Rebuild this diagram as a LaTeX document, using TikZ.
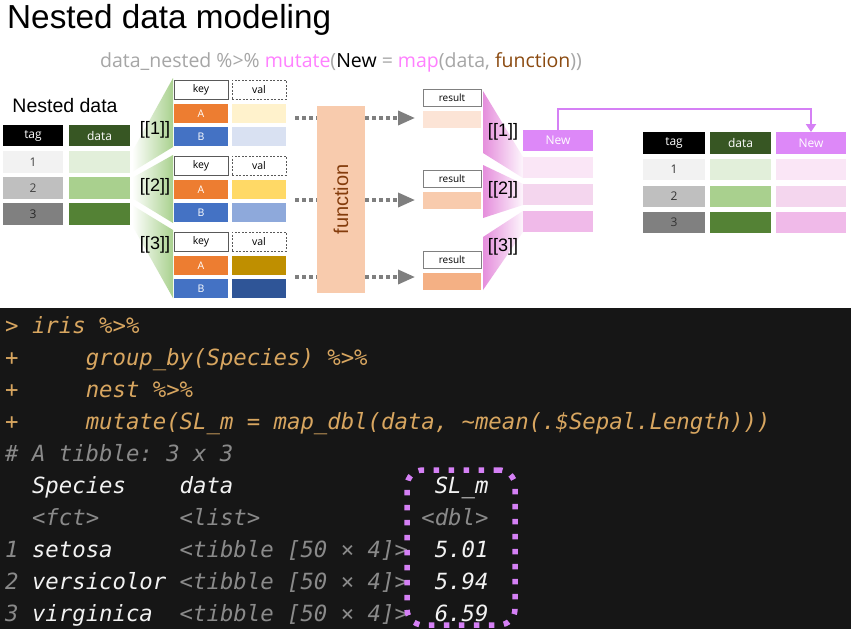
\documentclass[tikz,border=0pt]{standalone}
\usepackage{fontspec}
\setmainfont{Liberation Sans}
\setmonofont{DejaVu Sans Mono}
\newfontfamily\ofont{Open Sans}
\usetikzlibrary{arrows.meta,calc}
\definecolor{tagh}{HTML}{000000}
\definecolor{datah}{HTML}{375623}
\definecolor{newh}{HTML}{DD88F8}
\definecolor{tagA}{HTML}{F2F2F2}
\definecolor{tagB}{HTML}{BFBFBF}
\definecolor{tagC}{HTML}{808080}
\definecolor{datA}{HTML}{E2EFDA}
\definecolor{datB}{HTML}{A9D08E}
\definecolor{datC}{HTML}{548235}
\definecolor{newA}{HTML}{FAE6F6}
\definecolor{newB}{HTML}{F4D6EE}
\definecolor{newC}{HTML}{F0BAE9}
\definecolor{korange}{HTML}{ED7D31}
\definecolor{kblue}{HTML}{4472C4}
\definecolor{vA1}{HTML}{FFF2CC}
\definecolor{vB1}{HTML}{D9E1F2}
\definecolor{vA2}{HTML}{FFD966}
\definecolor{vB2}{HTML}{8EA9DB}
\definecolor{vA3}{HTML}{BF8F00}
\definecolor{vB3}{HTML}{2F5597}
\definecolor{res1}{HTML}{FCE4D6}
\definecolor{res2}{HTML}{F8CBAD}
\definecolor{res3}{HTML}{F4B084}
\definecolor{fnfill}{HTML}{F8CBAD}
\definecolor{fnbrown}{HTML}{843C0C}
\definecolor{cgray}{HTML}{A6A6A6}
\definecolor{cpink}{HTML}{FF80FF}
\definecolor{cbrown}{HTML}{8B4A10}
\definecolor{arrgray}{HTML}{7F7F7F}
\definecolor{grnfan}{HTML}{A9D18E}
\definecolor{pinkfan}{HTML}{E58EDC}
\definecolor{conbg}{HTML}{161616}
\definecolor{ctan}{HTML}{D8A660}
\definecolor{cgr}{HTML}{8A8A8A}
\definecolor{cwh}{HTML}{F2F2F2}
\definecolor{hlviolet}{HTML}{D580F5}
\tikzset{
  cell/.style={anchor=north west, inner sep=0pt, outer sep=0pt, font=\ofont\fontsize{12}{12}\selectfont},
  kcell/.style={cell, minimum width=54pt, minimum height=19pt, font=\ofont\fontsize{10.5}{10.5}\selectfont},
  rcell/.style={cell, minimum width=58pt, minimum height=17pt, font=\ofont\fontsize{10}{10}\selectfont},
  brk/.style={font=\fontsize{18}{18}\selectfont, inner sep=0pt},
  dotarrow/.style={draw=arrgray, line width=3.5pt, dash pattern=on 3.5pt off 3.5pt, -{Triangle[length=17pt,width=14pt]}, shorten >=8pt},
  conline/.style={anchor=base west, inner sep=0pt, font=\ttfamily\itshape\fontsize{22.3}{22.3}\selectfont},
}
\begin{document}
\begin{tikzpicture}[x=1pt,y=-1pt]
\useasboundingbox (0,0) rectangle (851,629);
\fill[white] (0,0) rectangle (851,629);

% title and code line
\node[anchor=base west, inner sep=0pt, font=\fontsize{33.3}{33.3}\selectfont] (title) at (7,28) {Nested data modeling};
\node[anchor=base west, inner sep=0pt, font=\ofont\fontsize{19.5}{19.5}\selectfont] (codeline) at (100,67) {{\color{cgray}data\_nested \%>\%} {\color{cpink}mutate}{\color{cgray}(}{\color{black}New} {\color{cgray}=} {\color{cpink}map}{\color{cgray}(data,} {\color{cbrown}function}{\color{cgray}))}};

% fans (green)
\shade[left color=white, right color=grnfan] (132,152) -- (173,78) -- (173,147) -- (132,172) -- cycle;
\shade[left color=white, right color=grnfan] (132,178) -- (173,155) -- (173,223) -- (132,198) -- cycle;
\shade[left color=white, right color=grnfan] (132,205) -- (173,230) -- (173,298) -- (132,225) -- cycle;
% fans (pink)
\shade[left color=pinkfan, right color=white!92!pinkfan] (483,91) -- (523,157) -- (523,178) -- (483,153) -- cycle;
\shade[left color=pinkfan, right color=white!92!pinkfan] (483,165) -- (523,184) -- (523,205) -- (483,218) -- cycle;
\shade[left color=pinkfan, right color=white!92!pinkfan] (483,237) -- (523,211) -- (523,232) -- (483,290) -- cycle;

% left table
\node[font=\fontsize{19.5}{19.5}\selectfont, inner sep=0pt] (ndlabel) at (65,106) {Nested data};
\node[cell, fill=tagh, text=white, minimum width=60pt, minimum height=21pt] (lth) at (3,125) {tag};
\node[cell, fill=datah, text=white, minimum width=61pt, minimum height=21pt] (ldh) at (69,125) {data};
\node[cell, fill=tagA, text=black!75, minimum width=60pt, minimum height=22pt] (lt1) at (3,151) {1};
\node[cell, fill=tagB, text=black!75, minimum width=60pt, minimum height=22pt] (lt2) at (3,177) {2};
\node[cell, fill=tagC, text=black!85, minimum width=60pt, minimum height=22pt] (lt3) at (3,203) {3};
\node[cell, fill=datA, minimum width=61pt, minimum height=22pt] (ld1) at (69,151) {};
\node[cell, fill=datB, minimum width=61pt, minimum height=22pt] (ld2) at (69,177) {};
\node[cell, fill=datC, minimum width=61pt, minimum height=22pt] (ld3) at (69,203) {};

% brackets left
\node[brk] (bl1) at (155,130) {[[1]]};
\node[brk] (bl2) at (155,187) {[[2]]};
\node[brk] (bl3) at (155,245) {[[3]]};

% key/val blocks
\foreach \i/\y/\ca/\cb in {1/80/vA1/vB1, 2/156/vA2/vB2, 3/232/vA3/vB3}{
  \node[kcell, fill=white, draw=black!65, line width=0.8pt] (k\i) at (174,\y) {key};
  \node[kcell, fill=white, draw=black!65, line width=0.8pt, dash pattern=on 2pt off 1.5pt] (v\i) at (232,\y) {val};
  \node[kcell, fill=korange, text=white] (ka\i) at (174,\y+24) {A};
  \node[kcell, fill=kblue, text=white] (kb\i) at (174,\y+47) {B};
  \node[kcell, fill=\ca] (va\i) at (232,\y+24) {};
  \node[kcell, fill=\cb] (vb\i) at (232,\y+47) {};
}

% results
\foreach \i/\y/\c in {1/89/res1, 2/170/res2, 3/251/res3}{
  \node[rcell, fill=white, draw=black!50, line width=0.8pt] (rl\i) at (423,\y) {result};
  \node[rcell, fill=\c] (rf\i) at (423,\y+22) {};
}

% dotted arrows
\coordinate (s1) at (295,118);
\coordinate (s2) at (295,200);
\coordinate (s3) at (295,277);
\draw[dotarrow] (s1) -- (s1 -| rf1.west);
\draw[dotarrow] (s2) -- (s2 -| rf2.west);
\draw[dotarrow] (s3) -- (s3 -| rf3.west);

% function box
\node[fill=fnfill, rotate=90, inner sep=0pt, minimum width=187pt, minimum height=48pt, text=fnbrown, font=\fontsize{20}{20}\selectfont] (fn) at (341,199.5) {function};

% brackets right
\node[brk] (br1) at (503,132) {[[1]]};
\node[brk] (br2) at (503,190) {[[2]]};
\node[brk] (br3) at (503,247) {[[3]]};

% New column (left)
\node[cell, fill=newh, text=white, minimum width=70pt, minimum height=21pt] (lnh) at (523,130) {New};
\node[cell, fill=newA, minimum width=70pt, minimum height=21pt] (ln1) at (523,157) {};
\node[cell, fill=newB, minimum width=70pt, minimum height=21pt] (ln2) at (523,184) {};
\node[cell, fill=newC, minimum width=70pt, minimum height=21pt] (ln3) at (523,211) {};

% right table
\node[cell, fill=tagh, text=white, minimum width=62pt, minimum height=22pt] (rth) at (643,132) {tag};
\node[cell, fill=datah, text=white, minimum width=61pt, minimum height=22pt] (rdh) at (710,132) {data};
\node[cell, fill=newh, text=white, minimum width=70pt, minimum height=22pt] (rnh) at (776,132) {New};
\foreach \i/\y/\ct/\cd/\cn in {1/159/tagA/datA/newA, 2/185.5/tagB/datB/newB, 3/212/tagC/datC/newC}{
  \node[cell, fill=\ct, text=black!80, minimum width=62pt, minimum height=21pt] (rt\i) at (643,\y) {\i};
  \node[cell, fill=\cd, minimum width=61pt, minimum height=21pt] (rd\i) at (710,\y) {};
  \node[cell, fill=\cn, minimum width=70pt, minimum height=21pt] (rn\i) at (776,\y) {};
}

% connector New -> New
\draw[hlviolet, line width=2pt, -{Triangle[length=8pt,width=10pt]}] (lnh.north) -- ++(0,-21) -| (rnh.north);

% console
\fill[conbg] (0,308) rectangle (851,629);
\node[conline, text=ctan] (c1) at (5,333) {> iris \%>\%};
\node[conline, text=ctan] (c2) at (5,365.1) {+\ \ \ \ \ group\_by(Species) \%>\%};
\node[conline, text=ctan] (c3) at (5,397.2) {+\ \ \ \ \ nest \%>\%};
\node[conline, text=ctan] (c4) at (5,429.3) {+\ \ \ \ \ mutate(SL\_m = map\_dbl(data, \textasciitilde mean(.\$Sepal.Length)))};
\node[conline, text=cgr] (c5) at (5,461.4) {\# A tibble: 3 x 3};
\node[conline, text=cwh] (c6) at (5,493.5) {\ \ Species\ \ \ \ data\ \ \ \ \ \ \ \ \ \ \ \ \ \ \ SL\_m};
\node[conline, text=cgr] (c7) at (5,525.6) {\ \ <fct>\ \ \ \ \ \ <list>\ \ \ \ \ \ \ \ \ \ \ \ <dbl>};
\node[conline, text=cwh] (c8) at (5,557.7) {\color{cgr}1 \color{cwh}setosa\ \ \ \ \ \color{cgr}<tibble [50 × 4]>\ \ \color{cwh}5.01};
\node[conline, text=cwh] (c9) at (5,589.8) {\color{cgr}2 \color{cwh}versicolor \color{cgr}<tibble [50 × 4]>\ \ \color{cwh}5.94};
\node[conline, text=cwh] (c10) at (5,621.9) {\color{cgr}3 \color{cwh}virginica\ \ \color{cgr}<tibble [50 × 4]>\ \ \color{cwh}6.59};

% highlight box
\node[draw=hlviolet, line width=5.5pt, dash pattern=on 5.5pt off 9.5pt, rounded corners=16pt, minimum width=108pt, minimum height=155pt, inner sep=0pt] (hl) at (461,547.5) {};
\end{tikzpicture}
\end{document}
